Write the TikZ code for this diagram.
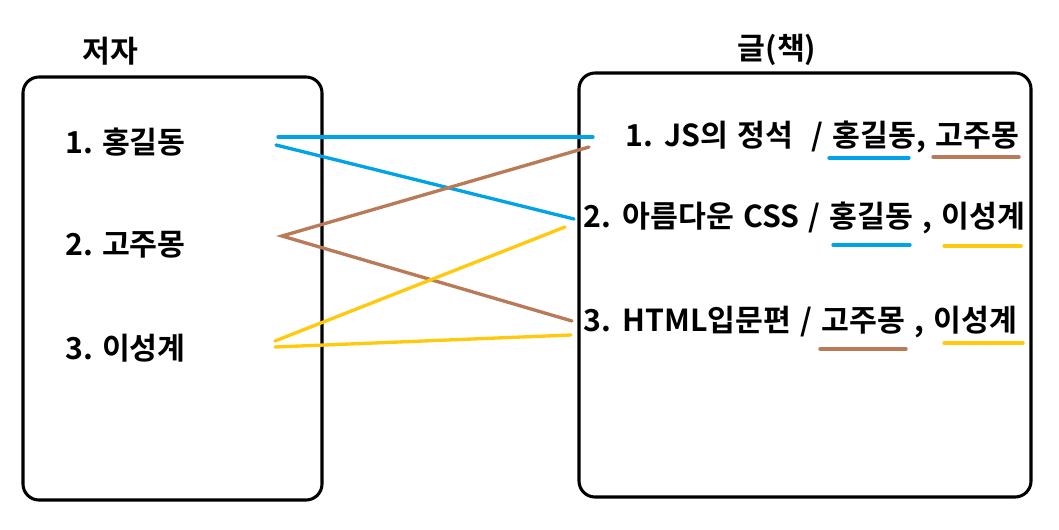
\documentclass[tikz,border=0pt]{standalone}
\usepackage{fontspec}
\setmainfont{Noto Sans CJK KR}[BoldFont={Noto Sans CJK KR Bold}]
\newfontfamily\krwide{Noto Sans CJK KR Bold}[WordSpace=1.35]
\definecolor{lblue}{HTML}{00A2E8}
\definecolor{lbrown}{HTML}{B97A57}
\definecolor{lyellow}{HTML}{FFC90E}
\begin{document}
\begin{tikzpicture}[x=0.75pt,y=-0.75pt,
  box/.style={draw=black,line width=2.3pt,rounded corners=12pt},
  lbl/.style={font=\fontsize{22.7}{26}\selectfont\bfseries,inner sep=0pt,anchor=west},
  blbl/.style={font=\fontsize{22.7}{26}\selectfont\krwide,inner sep=0pt,anchor=west},
  ttl/.style={font=\fontsize{22.7}{26}\selectfont\bfseries,inner sep=0pt},
  link/.style={line width=2.5pt,line cap=round}]
\useasboundingbox (0,0) rectangle (1059,529);
% boxes
\draw[box] (23,77) rectangle (322,500);
\draw[box] (579,73) rectangle (1031,497);
% titles
\node[ttl] (tl) at (110,51) {저자};
\node[ttl] (tr) at (777,50) {글(책)};
% authors
\node[lbl] (a1) at (65,142) {1. 홍길동};
\node[lbl] (a2) at (65,245) {2. 고주몽};
\node[lbl] (a3) at (65,348) {3. 이성계};
% books
\node[blbl] (b1) at (625,137) {1. JS의 정석\ \ / 홍길동, 고주몽};
\node[blbl] (b2) at (583,218) {2. 아름다운 CSS / 홍길동 , 이성계};
\node[blbl] (b3) at (583,322) {3. HTML입문편 / 고주몽 , 이성계};
% connector end points
\coordinate (p1) at (278,137); \coordinate (q1) at (593,137);
\coordinate (p2) at (276,145); \coordinate (q2) at (574,219);
\coordinate (r1) at (589,147); \coordinate (r2) at (282,236); \coordinate (r3) at (572,321);
\coordinate (y1) at (275,341); \coordinate (y2) at (565,227);
\coordinate (y3) at (275,347); \coordinate (y4) at (571,335);
\draw[link,lblue] (p1) -- (q1);
\draw[link,lblue] (p2) -- (q2);
\draw[link,lbrown] (r1) -- (r2) -- (r3);
\draw[link,lyellow] (y1) -- (y2);
\draw[link,lyellow] (y3) -- (y4);
% underlines
\coordinate (u1a) at (829,158); \coordinate (u1b) at (909,158);
\coordinate (u2a) at (933,157); \coordinate (u2b) at (1019,157);
\coordinate (u3a) at (833,245); \coordinate (u3b) at (910,245);
\coordinate (u4a) at (944,246); \coordinate (u4b) at (1021,246);
\coordinate (u5a) at (820,349); \coordinate (u5b) at (906,349);
\coordinate (u6a) at (944,343); \coordinate (u6b) at (1023,343);
\draw[link,lblue] (u1a) -- (u1b);
\draw[link,lbrown] (u2a) -- (u2b);
\draw[link,lblue] (u3a) -- (u3b);
\draw[link,lyellow] (u4a) -- (u4b);
\draw[link,lbrown] (u5a) -- (u5b);
\draw[link,lyellow] (u6a) -- (u6b);
\end{tikzpicture}
\end{document}
